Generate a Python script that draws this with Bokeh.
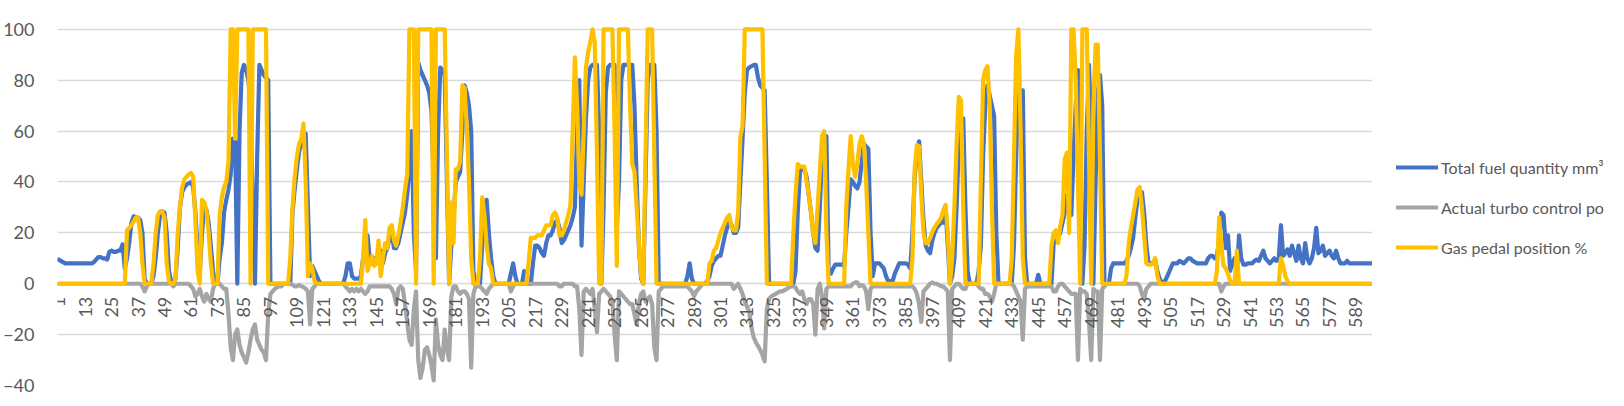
import math
from bokeh.plotting import figure
from bokeh.layouts import row
from bokeh.models import Range1d, FixedTicker, Legend, LegendItem, ColumnDataSource
from bokeh.core.properties import value
from bokeh.embed import file_html
from bokeh.resources import INLINE

# ---------------- data ----------------
fuel = [
    9.5, 9, 8.5, 8, 8, 8, 8, 8, 8, 8,
    8, 8, 8, 8, 8, 8, 8.5, 9.5, 10.5, 10.5,
    10, 10, 9.5, 12.5, 13, 12.5, 12.5, 13, 13, 15.5,
    6, 10, 16, 24, 26.5, 26, 26, 25, 20, 2,
    0, 0, 0, 3, 10, 20, 27, 28.5, 28, 20,
    5, 1, 0, 2, 14, 30, 36, 38, 39, 39.5,
    40, 38, 28, 14, 5, 20, 30, 29, 24, 15,
    5, 0, 0, 10, 16, 28, 33, 37, 43, 57,
    56, 0, 60, 83, 86, 84, 80, 70, 30, 0,
    50, 86, 84, 82, 81, 80, 0, 0, 0, 0,
    0, 0, 0, 0, 0, 0, 28, 37, 45, 52,
    55, 57, 59, 30, 3, 7, 5, 3, 1, 0,
    0, 0, 0, 0, 0, 0, 0, 0, 0, 0,
    3, 8, 8, 3, 2, 2, 2, 3, 10, 15,
    19, 10, 8, 10, 8, 12, 13, 8, 12, 14,
    18, 20, 14, 14, 16, 20, 24, 28, 35, 45,
    60, 20, 5, 87, 84, 82, 80, 78, 75, 68,
    40, 10, 60, 85, 84, 82, 40, 0, 15, 26,
    40, 42, 44, 60, 78, 75, 70, 60, 5, 0,
    0, 0, 15, 28, 33, 20, 10, 3, 0, 0,
    0, 0, 0, 0, 0, 4, 8, 3, 0, 0,
    0, 5, 0, 0, 0, 8, 15, 15, 14, 12,
    11, 16, 19, 19, 21, 24, 25, 22, 16, 17,
    19, 21, 23, 26, 30, 60, 80, 15, 40, 65,
    80, 85, 86, 86, 86, 60, 0, 30, 75, 85,
    86, 86, 86, 22, 40, 80, 86, 86, 86, 86,
    86, 70, 40, 15, 2, 0, 40, 80, 86, 86,
    86, 60, 0, 0, 0, 0, 0, 0, 0, 0,
    0, 0, 0, 0, 0, 3, 8, 2, 0, 0,
    0, 0, 0, 0, 1, 3, 7, 9, 10, 11,
    11, 15, 19, 22, 24, 23, 20, 20, 22, 40,
    57, 75, 84, 85, 85.5, 86, 86, 81, 78, 77,
    76, 40, 0, 0, 0, 0, 0, 0, 0, 0,
    0, 0, 0, 0, 5, 28, 44, 45, 45, 42,
    35, 28, 20, 14, 13, 30, 50, 57, 58, 5,
    4, 6, 7.5, 7.5, 7.5, 7.5, 7, 20, 30, 41,
    40, 38.5, 37.5, 40, 48, 55, 54, 53, 20, 3,
    8, 8, 8, 7, 6, 3, 1, 1, 1, 4,
    6, 8, 8, 8, 8, 7.5, 6, 20, 42, 52,
    56, 40, 25, 15, 13, 12, 17, 20, 22, 23,
    24, 24, 30, 15, 0, 3, 10, 30, 55, 65,
    65, 30, 5, 0, 0, 0, 0, 5, 15, 50,
    70, 78, 74, 70, 66, 20, 0, 0, 0, 0,
    0, 0, 0, 15, 50, 77, 76, 76, 10, 0,
    0, 0, 0, 0, 3.5, 0, 0, 0, 0, 0,
    0, 16, 17, 18, 20, 24, 28, 35, 30, 27,
    50, 70, 84, 20, 0, 15, 60, 86, 60, 0,
    40, 75, 82, 70, 0, 0, 0, 6, 8, 8,
    8, 8, 8, 8, 9, 11, 14, 18, 26, 33,
    36, 36, 28, 15, 8, 8, 8, 9.5, 5, 2,
    0.5, 0.5, 2, 4, 6, 8, 8, 8, 9, 8.5,
    8, 9, 10, 10, 9, 8.5, 8, 8, 8, 8,
    8, 10, 11, 11, 10, 11, 17, 28, 27, 14,
    19, 5, 8, 10, 4, 19, 10, 7.5, 7.5, 8,
    8, 8, 9, 9.5, 9, 11, 13, 10, 9, 8,
    9, 10, 9, 10, 23, 11, 12, 13.5, 11, 15,
    12, 9, 15, 10, 8, 16, 10, 8, 10, 14,
    22, 12, 13, 15, 11, 12, 13, 11, 10, 13,
    10, 8, 8, 8, 9, 8, 8, 8, 8, 8,
    8, 8, 8, 8, 8, 8,
]

turbo = [
    0, 0, 0, 0, 0, 0, 0, 0, 0, 0,
    0, 0, 0, 0, 0, 0, 0, 0, 0, 0,
    0, 0, 0, 0, 0, 0, 0, 0, 0, 0,
    0, 0, 0, 0, 0, 0, 0, 0, -1, -3,
    -1, 0, 0, 0, 0, 0, 0, 0, 0, 0,
    0, 0, -1, 0, 0, 0, 0, 0, 0, 0,
    -1, -2, -5, -4, -2, -5, -7, -4, -6, -7,
    -2, 0, 0, 0, -1, -2, -2, -12, -25, -30,
    -20, -18, -24, -27, -29, -31, -27, -22, -18, -16,
    -22, -24, -26, -27, -30, -12, -4, -3, -2, -1.5,
    -1, -1, 0, 0, 0, 0, -0.5, -1, -1, -0.5,
    -1, -1.3, -2, -3, -16, -2, -1, 0, 0, 0,
    0, 0, 0, 0, 0, 0, 0, 0, 0, 0,
    -1, -2, -3, -2, -3, -2, -3, -2, -3, -4,
    -3, -1, -1, -1, -1, -1, -1, -1, -1, -1,
    -1, -2, -4, -8, -2, -1, -2, -8, -15, -22,
    -24, -10, -3, -30, -37, -33, -26, -25, -28, -32,
    -38, -14, -24, -28, -30, -18, -26, -30, -5, -1,
    -1, -3, -4, -3, -3, -4, -6, -33, -4, -1,
    -1, -1, -2, -3, -4, -2, -1, 0, 0, 0,
    0, 0, 0, 0, 0, -3, -1, 0, 0, 0,
    0, 0, 0, 0, 0, 0, 0, 0, 0, 0,
    0, 0, 0, 0, 0, 0, 0, -1, -1, 0,
    0, 0, 0, 0, -1, -1, -10, -28, -3, -2,
    -3, -4, -2, -10, -19, -4, -3, -2, -3, -4,
    -5, -7, -20, -30, -3, -4, -5, -6, -7, -8,
    -8, -12, -16, -8, -4, -3, -7, -6, -5, -8,
    -25, -30, -3, -2, -1, -1, -1, -1, -1, -1,
    -1, -1, -1, -1, -1, -1, -2, -3, -5, -3,
    -2, -1, 0, 0, 0, 0, 0, 0, 0, 0,
    0, 0, 0, 0, 0, 0, -2, -1, 0, -2,
    -4, -7, -9, -11, -17, -21, -23, -24.5, -26, -28,
    -30.5, -10, -6, -5, -4.5, -4, -3.5, -3, -3, -2.5,
    -2, -1.5, -1, -1, -1.5, -3, -4, -3, -6, -8,
    -6, -6, -8, -20, -2, 0, -5, -17.6, -2, -1,
    -1, -1, -1, -1, -1, -1, -1, -1, -1, -1,
    0, 0.5, 0.5, -1, -0.5, -1, -3, -10, -2, -1,
    -1, -1, -1, -1, -1, -1, -1, -1, -1, -1,
    -1, -1, -1, -1, -1, -1, -1, -1, -2, -4,
    -8, -15, -3, -2, -1, 0, 0.5, 0, 0, -0.5,
    -1, -1, -2, -3, -30, -2, -1, 0, 0, -1,
    -2, -2, 0, 0, 0, 0, 0, -1, -2, -2,
    -4, -4, -5, -7, -4, 0, 0, 0, 0, 0,
    0, 0, 0, -1, -3, -5, -7, -22, -2, -1,
    -1, -1, -1, -1, -1, -1, -1, -1, -1, -1,
    -1, -3, -3, -1, 0, 0, -1, -2, -3, -4,
    -4, -4, -30, -2, -3, -3, -4, -15, -30, -2,
    -3, -3, -30, -2, -1, 0, 0, 0, 0, 0,
    0, 0, 0, 0, 0, 0, 0, 0, 0, 0,
    -1, -4, -6, -2, -1, 0, 0, 0, 0, 0,
    0, 0, 0, 0, 0, 0, 0, 0, 0, 0,
    0, 0, 0, 0, 0, 0, 0, 0, 0, 0,
    0, 0, 0, 0, 0, 0, 0, -3, -1, 0,
    0, 0, 0, 0, 0, 0, 0, 0, 0, 0,
    0, 0, 0, 0, 0, 0, 0, 0, 0, 0,
    0, 0, 0, 0, 0, 0, 0, 0, 0, 0,
    0, 0, 0, 0, 0, 0, 0, 0, 0, 0,
    0, 0, 0, 0, 0, 0, 0, 0, 0, 0,
    0, 0, 0, 0, 0, 0, 0, 0, 0, 0,
    0, 0, 0, 0, 0, 0,
]

pedal = [
    0, 0, 0, 0, 0, 0, 0, 0, 0, 0,
    0, 0, 0, 0, 0, 0, 0, 0, 0, 0,
    0, 0, 0, 0, 0, 0, 0, 0, 0, 0,
    0, 21, 22, 23, 24.5, 26, 26, 20, 8, 0,
    0, 0, 0, 8, 20, 27, 28.5, 28.5, 26, 8,
    1, 0, 0, 2, 20, 30, 38, 41, 42, 43,
    43.5, 42, 25, 5, 0, 33, 32, 29, 20, 8,
    0, 0, 0, 27, 34, 38, 40, 48, 100, 100,
    57, 100, 100, 100, 100, 100, 100, 0, 100, 100,
    100, 100, 100, 100, 100, 0, 0, 0, 0, 0,
    0, 0, 0, 0, 0, 10, 30, 42, 50, 55,
    57, 63, 40, 3, 8, 6, 1, 0, 0, 0,
    0, 0, 0, 0, 0, 0, 0, 0, 0, 0,
    0, 0, 0, 0, 0, 0, 0, 0, 10, 25,
    5, 8, 11, 7, 8, 17, 3, 10, 16, 14,
    22, 23, 17, 15, 19, 24, 30, 37, 43, 100,
    100, 100, 0, 100, 100, 100, 100, 100, 100, 100,
    0, 100, 100, 100, 100, 100, 50, 0, 32, 16,
    45, 45, 48, 78, 77, 62, 40, 10, 0, 0,
    0, 10, 34, 27, 15, 8, 6, 0, 0, 0,
    0, 0, 0, 0, 0, 0, 0, 0, 0, 0,
    0, 0, 0, 8, 18, 18, 18, 19, 19, 19,
    21, 23, 23, 23, 27, 28, 26, 19, 19, 21,
    24, 27, 31, 60, 89, 70, 40, 35, 60, 85,
    91, 95, 100, 95, 50, 0, 0, 100, 100, 100,
    100, 100, 60, 7, 100, 100, 100, 100, 100, 70,
    47, 44, 30, 16, 3, 0, 50, 100, 100, 100,
    50, 0, 0, 0, 0, 0, 0, 0, 0, 0,
    0, 0, 0, 0, 0, 0, 0, 0, 0, 0,
    0, 0, 0, 0, 0, 8, 9, 13, 14, 17,
    20, 22, 24, 26, 27, 22, 21, 21, 28, 58,
    62, 100, 100, 100, 100, 100, 100, 100, 100, 100,
    50, 0, 0, 0, 0, 0, 0, 0, 0, 0,
    0, 0, 0, 20, 35, 47, 46, 46, 46, 40,
    35, 28, 20, 16, 30, 44, 58, 60, 20, 0,
    0, 0, 0, 0, 0, 0, 0, 30, 45, 58,
    47, 42, 47, 55, 58, 55, 40, 20, 0, 0,
    0, 0, 0, 0, 0, 0, 0, 0, 0, 0,
    0, 0, 0, 0, 0, 0, 0, 10, 45, 54.5,
    54, 35, 20, 16, 16, 18, 20.5, 22, 23.5, 24.5,
    26, 29, 31, 20, 0, 10, 30, 55, 73.5, 72,
    30, 0, 0, 0, 0, 0, 0, 0, 40, 80,
    84, 85.5, 70, 30, 0, 0, 0, 0, 0, 0,
    0, 0, 10, 50, 90, 100, 60, 10, 0, 0,
    0, 0, 0, 0, 0, 0, 0, 0, 0, 0,
    15, 20, 21, 16, 23, 27, 49, 51.5, 20, 100,
    100, 80, 40, 0, 100, 100, 100, 50, 0, 70,
    94, 94, 50, 0, 0, 0, 0, 0, 0, 0,
    0, 0, 0, 0, 3, 16, 22, 27, 32, 37,
    38, 30, 19, 8, 7.5, 7.5, 8, 10, 3, 0,
    0, 0, 0, 0, 0, 0, 0, 0, 0, 0,
    0, 0, 0, 0, 0, 0, 0, 0, 0, 0,
    0, 0, 0, 0, 0, 5, 26, 15, 7, 6,
    4, 1, 0, 0, 13, 0, 0, 0, 0, 0,
    0, 0, 0, 0, 0, 0, 0, 0, 0, 0,
    0, 0, 0, 0, 10, 7, 3, 1, 0, 0,
    0, 0, 0, 0, 0, 0, 0, 0, 0, 0,
    0, 0, 0, 0, 0, 0, 0, 0, 0, 0,
    0, 0, 0, 0, 0, 0, 0, 0, 0, 0,
    0, 0, 0, 0, 0, 0,
]

x_tick_labels = ["1", "13", "25", "37", "49", "61", "73", "85", "97", "109",
                 "121", "133", "145", "157", "169", "181", "193", "205", "217", "229",
                 "241", "253", "265", "277", "289", "301", "313", "325", "337", "349",
                 "361", "373", "385", "397", "409", "421", "433", "445", "457", "469",
                 "481", "493", "505", "517", "529", "541", "553", "565", "577", "589"]
y_ticks = [-40, -20, 0, 20, 40, 60, 80, 100]

# legend texts as far as the reference shows them (the picture cuts them at its edge)
series_names = ["Total fuel quantity mm\u00b3", "Actual turbo control po", "Gas pedal position %"]
series_colors = ["#4472C4", "#A5A5A5", "#FFC000"]

# ---------------- main figure ----------------
N = max(len(fuel), len(turbo), len(pedal))
FONT = "Lato"
GREY_TXT = "#595959"
H = 398
LW = 4.2

p = figure(width=1372, height=H, output_backend="svg", toolbar_location=None,
           x_range=Range1d(0.5, N + 0.5), y_range=Range1d(-40, 101.9),
           x_axis_location=None, min_border_left=49, min_border_right=0,
           min_border_top=24, min_border_bottom=13)
p.outline_line_color = None
p.background_fill_color = "white"
p.border_fill_color = "white"

p.yaxis.ticker = FixedTicker(ticks=y_ticks)
p.yaxis.axis_line_color = None
p.yaxis.major_tick_line_color = None
p.yaxis.minor_tick_line_color = None
p.yaxis.major_label_standoff = 17
p.yaxis.major_label_text_font = FONT
p.yaxis.major_label_text_font_size = "18px"
p.yaxis.major_label_text_color = GREY_TXT
for g in p.grid:
    if g.dimension == 0:
        g.visible = False
    else:
        g.ticker = FixedTicker(ticks=y_ticks)
        g.grid_line_color = "#D9D9D9"
        g.grid_line_width = 1.35

for vals, col in zip([fuel, turbo, pedal], series_colors):
    xs = list(range(1, len(vals) + 1))
    p.line(xs, vals, line_color=col, line_width=LW, line_join="round", line_cap="round")

# category labels along the zero line (vertical text)
lab_src = ColumnDataSource(dict(x=[int(t) for t in x_tick_labels],
                                y=[0] * len(x_tick_labels),
                                text=x_tick_labels))
p.text(x="x", y="y", text="text", source=lab_src, angle=math.pi / 2,
       text_align="right", text_baseline="middle", y_offset=13,
       text_font=value(FONT), text_font_size="18px", text_color=GREY_TXT)

# ---------------- legend panel (separate narrow figure) ----------------
q = figure(width=236, height=H, output_backend="svg", toolbar_location=None,
           x_range=Range1d(0, 1), y_range=Range1d(0, 1),
           x_axis_location=None, y_axis_location=None,
           min_border_left=0, min_border_right=0, min_border_top=0, min_border_bottom=0)
q.outline_line_color = None
q.grid.visible = False
q.background_fill_color = "white"
q.border_fill_color = "white"
nan = float("nan")
leg_renderers = [q.line([nan], [nan], line_color=c, line_width=LW, line_cap="round") for c in series_colors]

legend = Legend(items=[LegendItem(label=n, renderers=[r]) for n, r in zip(series_names, leg_renderers)],
                location=(24, 126))
legend.border_line_color = None
legend.background_fill_alpha = 0
legend.padding = 0
legend.margin = 0
legend.spacing = 16
legend.glyph_width = 42
legend.glyph_height = 24
legend.label_height = 24
legend.label_standoff = 3
legend.label_text_font = FONT
legend.label_text_font_size = "16px"
legend.label_text_color = GREY_TXT
q.add_layout(legend)

layout = row(p, q)
open("out.html", "w").write(file_html(layout, INLINE))
